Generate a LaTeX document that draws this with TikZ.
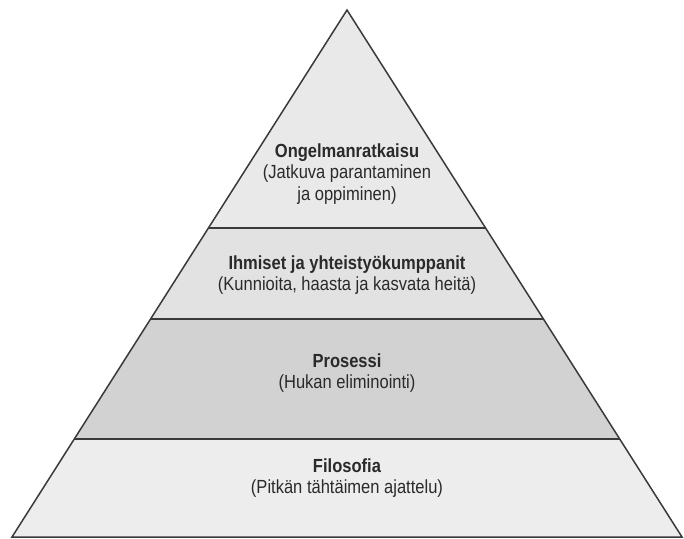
\documentclass[tikz,border=0pt]{standalone}
\usepackage{fontspec}
\setmainfont{Liberation Sans}[FakeStretch=0.87]
\definecolor{edge}{HTML}{3A3A3A}
\definecolor{txt}{HTML}{2A2A2A}
\definecolor{bandA}{HTML}{E9E9E9}
\definecolor{bandB}{HTML}{E2E2E2}
\definecolor{bandC}{HTML}{D2D2D2}
\definecolor{bandD}{HTML}{EDEDED}
\begin{document}
\begin{tikzpicture}[x=1pt,y=-1pt,
  lbl/.style={align=center,text=txt,font=\fontsize{19}{21.5}\selectfont,inner sep=0pt},
  divider/.style={draw=edge,line width=1.6pt}]
\useasboundingbox (0,0) rectangle (684,538);
\coordinate (apex) at (347,10);
\coordinate (bl) at (12,537);
\coordinate (br) at (682,537);
\begin{scope}
  \clip (apex) -- (bl) -- (br) -- cycle;
  \fill[bandA] (0,0) rectangle (684,228);
  \fill[bandB] (0,228) rectangle (684,319);
  \fill[bandC] (0,319) rectangle (684,439);
  \fill[bandD] (0,439) rectangle (684,538);
  \draw[divider] (0,228) -- (684,228);
  \draw[divider] (0,319) -- (684,319);
  \draw[divider] (0,439) -- (684,439);
\end{scope}
\draw[edge,line width=1.5pt,line join=miter] (apex) -- (bl) -- (br) -- cycle;
\node[lbl] (t1) at (347,174) {\textbf{Ongelmanratkaisu}\\(Jatkuva parantaminen\\ja oppiminen)};
\node[lbl] (t2) at (347,275) {\textbf{Ihmiset ja yhteistyökumppanit}\\(Kunnioita, haasta ja kasvata heitä)};
\node[lbl] (t3) at (347,373) {\textbf{Prosessi}\\(Hukan eliminointi)};
\node[lbl] (t4) at (347,478) {\textbf{Filosofia}\\(Pitkän tähtäimen ajattelu)};
\end{tikzpicture}
\end{document}
